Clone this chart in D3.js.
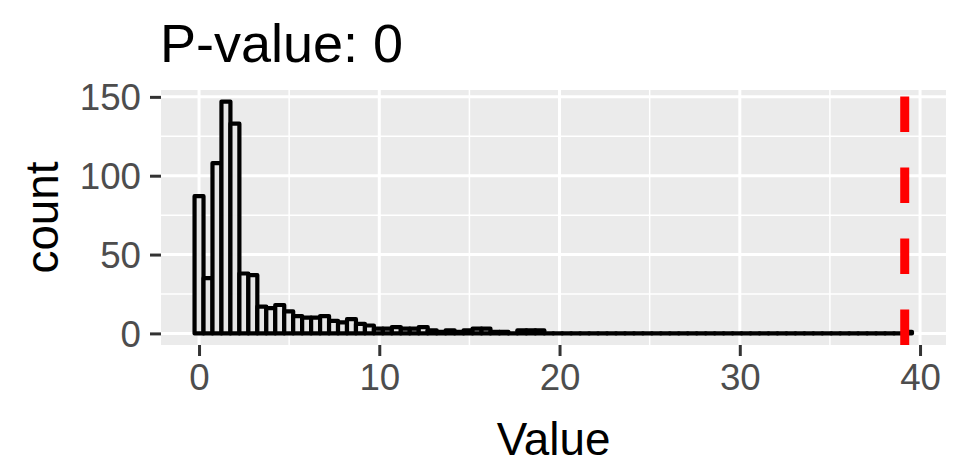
<!DOCTYPE html>
<html><head><meta charset="utf-8">
<script src="https://cdn.jsdelivr.net/npm/d3@7"></script>
<style>
body{margin:0;background:#fff}
text{font-family:"Liberation Sans",Arial,Helvetica,sans-serif}
</style>
</head><body>
<svg id="chart" width="968" height="472"></svg>
<script>
// ---- data ----
const titleText = "P-value: 0";
const xLabel = "Value";
const yLabel = "count";
const binWidth = 0.4975;
const binStart = -0.24875;
const counts = [87,35,108,147,133,38,37,17,16,18,14,11,10,10,11,8,7,9,6,5,
                3,3,4,3,3,4,2,1,2,1,2,3,3,1,1,0,2,2,2,0,
                0,0,0,0,0,0,0,0,0,0,0,0,0,0,0,0,0,0,0,0,
                0,0,0,0,0,0,0,0,0,0,0,0,0,0,0,0,0,0,0,1];
const observed = 39.15;
const xTicks = [0,10,20,30,40];
const yTicks = [0,50,100,150];
const xMinor = [5,15,25,35];
const yMinor = [25,75,125];

// ---- layout ----
const panel = {left:161, right:946, top:90, bottom:345};
const svg = d3.select("#chart");

const x = d3.scaleLinear().domain([-2.11, 41.44]).range([panel.left, panel.right]);
const ymax = d3.max(counts);
const y = d3.scaleLinear().domain([-ymax*0.05, ymax*1.05]).range([panel.bottom, panel.top]);

// panel background
svg.append("rect").attr("x",panel.left).attr("y",panel.top)
  .attr("width",panel.right-panel.left).attr("height",panel.bottom-panel.top)
  .attr("fill","#ebebeb");

const grid = svg.append("g");
grid.selectAll(".xmin").data(xMinor).join("line")
  .attr("x1",d=>x(d)).attr("x2",d=>x(d)).attr("y1",panel.top).attr("y2",panel.bottom)
  .attr("stroke","#fff").attr("stroke-width",1.5);
grid.selectAll(".ymin").data(yMinor).join("line").attr("class","ymin")
  .attr("y1",d=>y(d)).attr("y2",d=>y(d)).attr("x1",panel.left).attr("x2",panel.right)
  .attr("stroke","#fff").attr("stroke-width",1.5);
grid.selectAll(".xmaj").data(xTicks).join("line").attr("class","xmaj")
  .attr("x1",d=>x(d)).attr("x2",d=>x(d)).attr("y1",panel.top).attr("y2",panel.bottom)
  .attr("stroke","#fff").attr("stroke-width",3);
grid.selectAll(".ymaj").data(yTicks).join("line").attr("class","ymaj")
  .attr("y1",d=>y(d)).attr("y2",d=>y(d)).attr("x1",panel.left).attr("x2",panel.right)
  .attr("stroke","#fff").attr("stroke-width",3);

// bars (paths so that empty bins still draw their outline at zero)
const bins = counts.map((c,i)=>({x0:binStart+i*binWidth, x1:binStart+(i+1)*binWidth, c}));
svg.append("g").selectAll("path").data(bins).join("path")
  .attr("d",d=>{
    const p = d3.path();
    p.moveTo(x(d.x0), y(0)); p.lineTo(x(d.x0), y(d.c));
    p.lineTo(x(d.x1), y(d.c)); p.lineTo(x(d.x1), y(0)); p.closePath();
    return p.toString();
  })
  .attr("fill","#e6e6e6").attr("stroke","#000").attr("stroke-width",4.2)
  .attr("stroke-linejoin","round").attr("stroke-linecap","round");

// observed line
svg.append("line")
  .attr("x1",x(observed)).attr("x2",x(observed))
  .attr("y1",panel.bottom).attr("y2",panel.top)
  .attr("stroke","#ff0000").attr("stroke-width",9)
  .attr("stroke-dasharray","35.5 35.5");

// axes
const xAxis = svg.append("g").attr("transform",`translate(0,${panel.bottom})`)
  .call(d3.axisBottom(x).tickValues(xTicks).tickSize(11).tickPadding(8).tickFormat(d3.format("d")));
const yAxis = svg.append("g").attr("transform",`translate(${panel.left},0)`)
  .call(d3.axisLeft(y).tickValues(yTicks).tickSize(11).tickPadding(9).tickFormat(d3.format("d")));
[xAxis,yAxis].forEach(a=>{
  a.select(".domain").remove();
  a.selectAll(".tick line").attr("stroke","#333333").attr("stroke-width",3);
  a.selectAll(".tick text").attr("fill","#4d4d4d").style("font-size","36.7px")
   .style("font-family",'"Liberation Sans",Arial,sans-serif');
});
xAxis.selectAll(".tick text").attr("dy","0.71em");
yAxis.selectAll(".tick text").attr("dy","0.35em");

// labels
svg.append("text").attr("x",(panel.left+panel.right)/2).attr("y",455)
  .attr("text-anchor","middle").style("font-size","45.8px").attr("fill","#000").text(xLabel);
svg.append("text").attr("transform",`translate(58,${(panel.top+panel.bottom)/2}) rotate(-90)`)
  .attr("text-anchor","middle").style("font-size","45.8px").attr("fill","#000").text(yLabel);
svg.append("text").attr("x",160).attr("y",62).style("font-size","54px").attr("fill","#000").text(titleText);
</script>
</body></html>
